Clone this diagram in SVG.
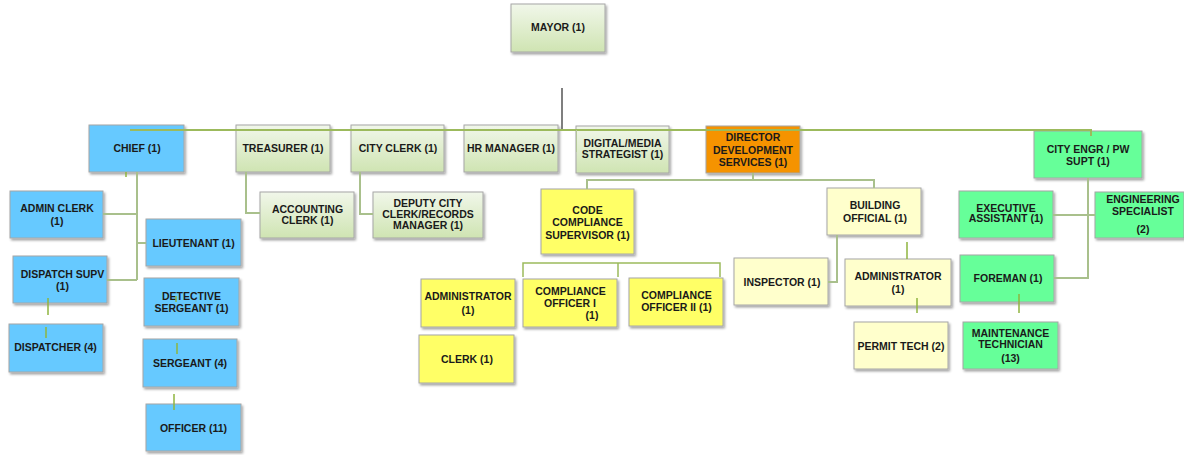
<svg xmlns="http://www.w3.org/2000/svg" width="1184" height="455" viewBox="0 0 1184 455">
<defs>
<linearGradient id="gg" x1="0" y1="0" x2="0" y2="1">
<stop offset="0" stop-color="#f1f7ea"/>
<stop offset="1" stop-color="#cfe4b2"/>
</linearGradient>
<filter id="sh" x="-10%" y="-10%" width="130%" height="140%">
<feDropShadow dx="1.5" dy="2" stdDeviation="1" flood-color="#000" flood-opacity="0.35"/>
</filter>
<style>
rect{stroke:#a6a6a6;stroke-width:1;filter:url(#sh)}
.g{fill:url(#gg)}
.b{fill:#66c9ff}
.o{fill:#f59300}
.y{fill:#ffff66}
.ly{fill:#ffffcc}
.gr{fill:#66ff99}
text{font-family:"Liberation Sans",Arial,sans-serif;font-weight:bold;fill:#1a1a1a;text-anchor:middle;font-size:10.5px}
.c line,.c path{fill:none}
.t{stroke:#a9c08c;stroke-width:2}
.k{stroke:#8fb43f;stroke-width:1.5}
</style>
</defs>
<g id="mayor"><rect class="g" x="511" y="4" width="94" height="48"/><text x="558" y="31" font-size="10.7">MAYOR (1)</text></g>
<g id="chief"><rect class="b" x="89" y="125" width="95" height="47"/><text x="137" y="152" font-size="11">CHIEF (1)</text></g>
<g id="treasurer"><rect class="g" x="236" y="125" width="94" height="47"/><text x="283" y="152">TREASURER (1)</text></g>
<g id="cityclerk"><rect class="g" x="351" y="125" width="93" height="47"/><text x="398" y="152" font-size="11">CITY CLERK (1)</text></g>
<g id="hr"><rect class="g" x="464" y="125" width="94" height="47"/><text x="511" y="152" font-size="11">HR MANAGER (1)</text></g>
<g id="digital"><rect class="g" x="576" y="126" width="93" height="47"/><text x="622.5" y="147" font-size="10.2">DIGITAL/MEDIA</text><text x="622.5" y="158" font-size="10.2">STRATEGIST (1)</text></g>
<g id="director"><rect class="o" x="706" y="126" width="94" height="47"/><text x="753" y="141">DIRECTOR</text><text x="753" y="153.5">DEVELOPMENT</text><text x="753" y="166">SERVICES (1)</text></g>
<g id="cityengr"><rect class="gr" x="1034" y="131" width="108" height="47"/><text x="1088" y="153" font-size="11">CITY ENGR / PW</text><text x="1088" y="165" font-size="11">SUPT (1)</text></g>
<g id="adminclerk"><rect class="b" x="10" y="191" width="93" height="47"/><text x="57" y="212">ADMIN CLERK</text><text x="57" y="225">(1)</text></g>
<g id="lieutenant"><rect class="b" x="146" y="219" width="95" height="47"/><text x="193.5" y="247" font-size="10.1">LIEUTENANT (1)</text></g>
<g id="dispatchsupv"><rect class="b" x="13" y="256" width="94" height="47"/><text x="62.5" y="277.5" font-size="10.8">DISPATCH SUPV</text><text x="62.5" y="289.5" font-size="10.8">(1)</text></g>
<g id="detective"><rect class="b" x="144" y="278" width="95" height="48"/><text x="191.5" y="299.5" font-size="10">DETECTIVE</text><text x="191.5" y="312" font-size="10">SERGEANT (1)</text></g>
<g id="dispatcher"><rect class="b" x="9" y="324" width="94" height="48"/><text x="55.5" y="351" font-size="9.9">DISPATCHER (4)</text></g>
<g id="sergeant"><rect class="b" x="143" y="339" width="94" height="48"/><text x="190" y="367" font-size="10">SERGEANT (4)</text></g>
<g id="officer"><rect class="b" x="146" y="404" width="95" height="47"/><text x="193.5" y="431.5" font-size="11.2">OFFICER (11)</text></g>
<g id="accounting"><rect class="g" x="260" y="192" width="94" height="46"/><text x="307.5" y="212.5" font-size="9.5">ACCOUNTING</text><text x="307.5" y="223.5" font-size="9.5">CLERK (1)</text></g>
<g id="deputy"><rect class="g" x="373" y="192" width="110" height="46"/><text x="428" y="206.7" font-size="9.5">DEPUTY CITY</text><text x="428" y="217.7" font-size="9.5">CLERK/RECORDS</text><text x="428" y="229.4" font-size="9.5">MANAGER (1)</text></g>
<g id="codesupv"><rect class="y" x="541" y="189" width="93" height="65"/><text x="587.5" y="214">CODE</text><text x="587.5" y="226.3">COMPLIANCE</text><text x="587.5" y="239">SUPERVISOR (1)</text></g>
<g id="admincode"><rect class="y" x="421" y="279" width="94" height="48"/><text x="468" y="300.3" font-size="10">ADMINISTRATOR</text><text x="468" y="313.6" font-size="10">(1)</text></g>
<g id="compofficer1"><rect class="y" x="523" y="279" width="94" height="48"/><text x="570.5" y="294.7" font-size="10.3">COMPLIANCE</text><text x="570" y="306.7" font-size="10.3">OFFICER I</text><text x="592" y="318.7" font-size="10.3">(1)</text></g>
<g id="compofficer2"><rect class="y" x="629" y="278" width="94" height="48"/><text x="676.5" y="298.7" font-size="10.3">COMPLIANCE</text><text x="676.5" y="310.7" font-size="10.3">OFFICER II (1)</text></g>
<g id="clerk"><rect class="y" x="419" y="335" width="95" height="48"/><text x="467" y="362.8" font-size="10.8">CLERK (1)</text></g>
<g id="buildingofficial"><rect class="ly" x="827" y="188" width="94" height="47"/><text x="875" y="209.3" font-size="12">BUILDING</text><text x="875" y="222.3" font-size="12">OFFICIAL (1)</text></g>
<g id="inspector"><rect class="ly" x="734" y="258" width="94" height="47"/><text x="782" y="285.9" font-size="11.6">INSPECTOR (1)</text></g>
<g id="adminbldg"><rect class="ly" x="845" y="259" width="106" height="47"/><text x="898" y="279.6" font-size="10">ADMINISTRATOR</text><text x="898" y="292.9" font-size="10">(1)</text></g>
<g id="permittech"><rect class="ly" x="854" y="322" width="94" height="47"/><text x="901" y="349.6" font-size="10.9">PERMIT TECH (2)</text></g>
<g id="execassist"><rect class="gr" x="959" y="191" width="94" height="47"/><text x="1006" y="212.4" font-size="9.5">EXECUTIVE</text><text x="1006" y="222.4" font-size="9.5">ASSISTANT (1)</text></g>
<g id="engspecialist"><rect class="gr" x="1095" y="192" width="89" height="46"/><text x="1143" y="203" font-size="10.2">ENGINEERING</text><text x="1143" y="214.7" font-size="10.2">SPECIALIST</text><text x="1143" y="232.7" font-size="10.2">(2)</text></g>
<g id="foreman"><rect class="gr" x="960" y="255" width="94" height="47"/><text x="1008" y="282.3" font-size="11">FOREMAN (1)</text></g>
<g id="maintenance"><rect class="gr" x="963" y="322" width="95" height="47"/><text x="1010.5" y="337.2" font-size="8.8">MAINTENANCE</text><text x="1010.5" y="348.2" font-size="8.8">TECHNICIAN</text><text x="1010.5" y="361.5" font-size="8.8">(13)</text></g>
<g class="c" id="connectors">
<line x1="562" y1="88" x2="562" y2="131" stroke="#555" stroke-width="1.5"/>
<path d="M130 130 H1091 V136" stroke="#9cba5c" stroke-width="2"/>
<line x1="576.5" y1="130" x2="576.5" y2="152" stroke="#b4c89a" stroke-width="1"/>
<path class="t" d="M137 172 V280 M103 214 H137 M137 243 H146 M107 280 H137"/>
<line class="k" x1="126" y1="172" x2="126" y2="177"/>
<path class="t" d="M246 172 V213 H260"/>
<path class="t" d="M360 172 V214 H373"/>
<path class="t" d="M753 173 V179 M587 189 V180 H874 V188"/>
<path class="t" d="M837 235 V282 H828"/>
<path class="t" d="M1088 178 V278 H1054 M1053 215 H1095"/>
<path d="M523 277 V263 H720 V277 M618 263 V277" stroke="#9cba5c" stroke-width="1.5"/>
<line class="k" x1="48" y1="298" x2="48" y2="315"/>
<line class="k" x1="46" y1="327" x2="46" y2="338"/>
<line class="k" x1="176" y1="296" x2="176" y2="302"/>
<line class="k" x1="177" y1="343" x2="177" y2="354"/>
<line class="k" x1="174" y1="394" x2="174" y2="410"/>
<line class="k" x1="907" y1="242" x2="907" y2="259"/>
<line class="k" x1="917" y1="298" x2="917" y2="313"/>
<line class="k" x1="1019" y1="294" x2="1019" y2="313"/>
</g>
</svg>
